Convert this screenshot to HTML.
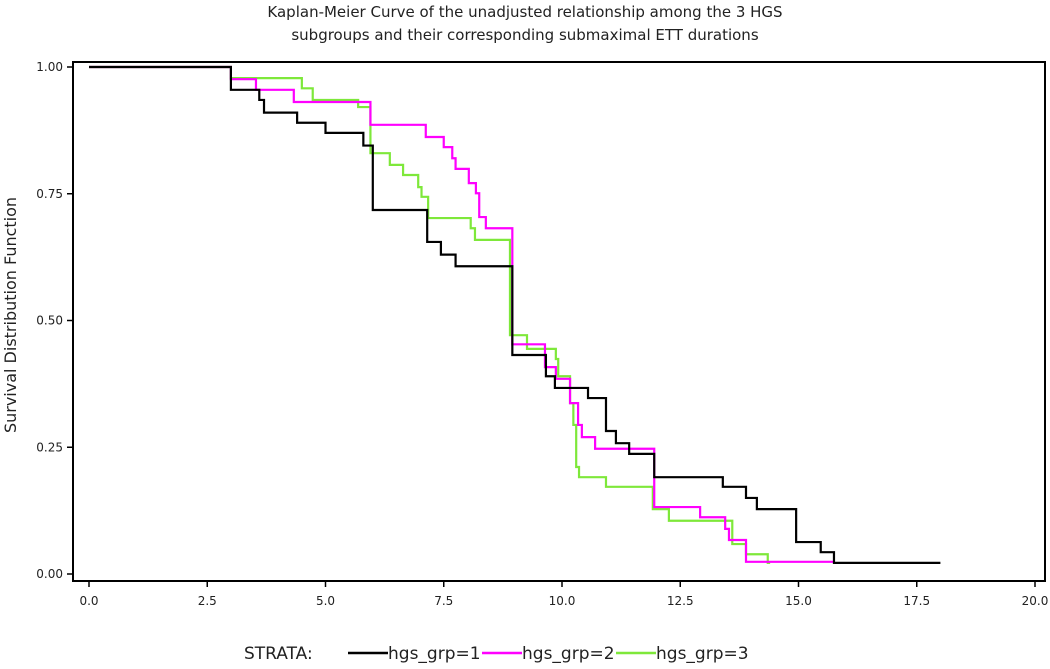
<!DOCTYPE html>
<html><head><meta charset="utf-8"><style>
body{margin:0;background:#fff;width:1050px;height:664px;overflow:hidden}
svg text{font-family:"DejaVu Sans","Liberation Sans",sans-serif;fill:#222}
</style></head><body>
<svg id="chart" width="1050" height="664" xmlns="http://www.w3.org/2000/svg">
<text x="525" y="17" font-size="15" text-anchor="middle">Kaplan-Meier Curve of the unadjusted relationship among the 3 HGS</text>
<text x="525" y="40" font-size="15" text-anchor="middle">subgroups and their corresponding submaximal ETT durations</text>
<text transform="translate(16,315) rotate(-90)" font-size="16" text-anchor="middle">Survival Distribution Function</text>
<g id="axes"></g>
<g id="series"></g>
<g id="legend">
<text x="244" y="659" font-size="17">STRATA:</text>
<line x1="348" y1="653" x2="388" y2="653" stroke="#000" stroke-width="2.5"/>
<text x="388" y="659" font-size="17">hgs_grp=1</text>
<line x1="482" y1="653" x2="522" y2="653" stroke="#ff00ff" stroke-width="2.5"/>
<text x="522" y="659" font-size="17">hgs_grp=2</text>
<line x1="616" y1="653" x2="656" y2="653" stroke="#7ee83a" stroke-width="2.5"/>
<text x="656" y="659" font-size="17">hgs_grp=3</text>
</g>
</svg>
<script>
const xTicks=[0,2.5,5,7.5,10,12.5,15,17.5,20];
const xTickLabels=["0.0","2.5","5.0","7.5","10.0","12.5","15.0","17.5","20.0"];
const yTicks=[0,0.25,0.5,0.75,1];
const yTickLabels=["0.00","0.25","0.50","0.75","1.00"];
const times1=[0,3.0,3.6,3.7,4.4,5.0,5.8,6.0,7.15,7.44,7.75,8.95,9.66,9.85,10.55,10.93,11.14,11.42,11.95,13.4,13.89,14.12,14.95,15.47,15.75,18.0];
const surv1=[1,0.955,0.935,0.91,0.89,0.87,0.845,0.718,0.655,0.63,0.607,0.432,0.39,0.367,0.347,0.282,0.258,0.237,0.191,0.172,0.15,0.128,0.063,0.043,0.022,0.022];
const times2=[0,3.0,3.53,4.33,5.95,7.12,7.5,7.68,7.75,8.03,8.18,8.25,8.39,8.95,9.64,9.87,10.17,10.34,10.42,10.7,11.95,12.92,13.45,13.53,13.89,15.75];
const surv2=[1,0.976,0.955,0.931,0.886,0.862,0.842,0.82,0.799,0.771,0.751,0.704,0.682,0.453,0.408,0.385,0.337,0.294,0.27,0.247,0.132,0.112,0.089,0.067,0.024,0.024];
const times3=[0,3.0,4.5,4.73,5.69,5.95,6.36,6.64,6.96,7.03,7.17,8.07,8.16,8.9,9.26,9.87,9.92,10.17,10.24,10.3,10.36,10.93,11.92,12.26,13.6,13.89,14.35,14.4];
const surv3=[1,0.978,0.958,0.935,0.921,0.83,0.807,0.787,0.763,0.744,0.702,0.682,0.659,0.471,0.444,0.424,0.39,0.337,0.294,0.211,0.191,0.172,0.128,0.105,0.059,0.039,0.022,0.022];
const X0=89,PX=47.3,Y0=574,PY=507;
const xs=t=>X0+t*PX, ys=s=>Y0-s*PY;
const NS="http://www.w3.org/2000/svg";
const ax=document.getElementById('axes'), se=document.getElementById('series');
function mk(tag,attrs,parent){const e=document.createElementNS(NS,tag);for(const k in attrs)e.setAttribute(k,attrs[k]);parent.appendChild(e);return e;}
const frame=mk('rect',{x:73,y:62,width:972,height:519,fill:'none',stroke:'#000','stroke-width':2},ax);


xTicks.forEach((v,i)=>{
  const l=mk('line',{x1:xs(v),x2:xs(v),y1:581,y2:587,stroke:'#000','stroke-width':1.5},ax);
  
  
  const t=mk('text',{x:xs(v),y:605,'font-size':12,'text-anchor':'middle'},ax);t.textContent=xTickLabels[i];
  
  
});
yTicks.forEach((v,i)=>{
  const l=mk('line',{x1:67,x2:73,y1:ys(v),y2:ys(v),stroke:'#000','stroke-width':1.5},ax);
  
  
  const t=mk('text',{x:63,y:ys(v)+4,'font-size':12,'text-anchor':'end'},ax);t.textContent=yTickLabels[i];
  
  
});
function step(ts,ss,color,name){
  let d='M'+xs(ts[0])+','+ys(ss[0]);
  for(let i=1;i<ts.length;i++){d+=' H'+xs(ts[i])+' V'+ys(ss[i]);}
  const p=mk('path',{d:d,fill:'none',stroke:color,'stroke-width':2.2},se);
  
  
}
step(times3,surv3,'#7ee83a','curve-hgs-grp-3');
step(times2,surv2,'#ff00ff','curve-hgs-grp-2');
step(times1,surv1,'#000000','curve-hgs-grp-1');
</script>
</body></html>
